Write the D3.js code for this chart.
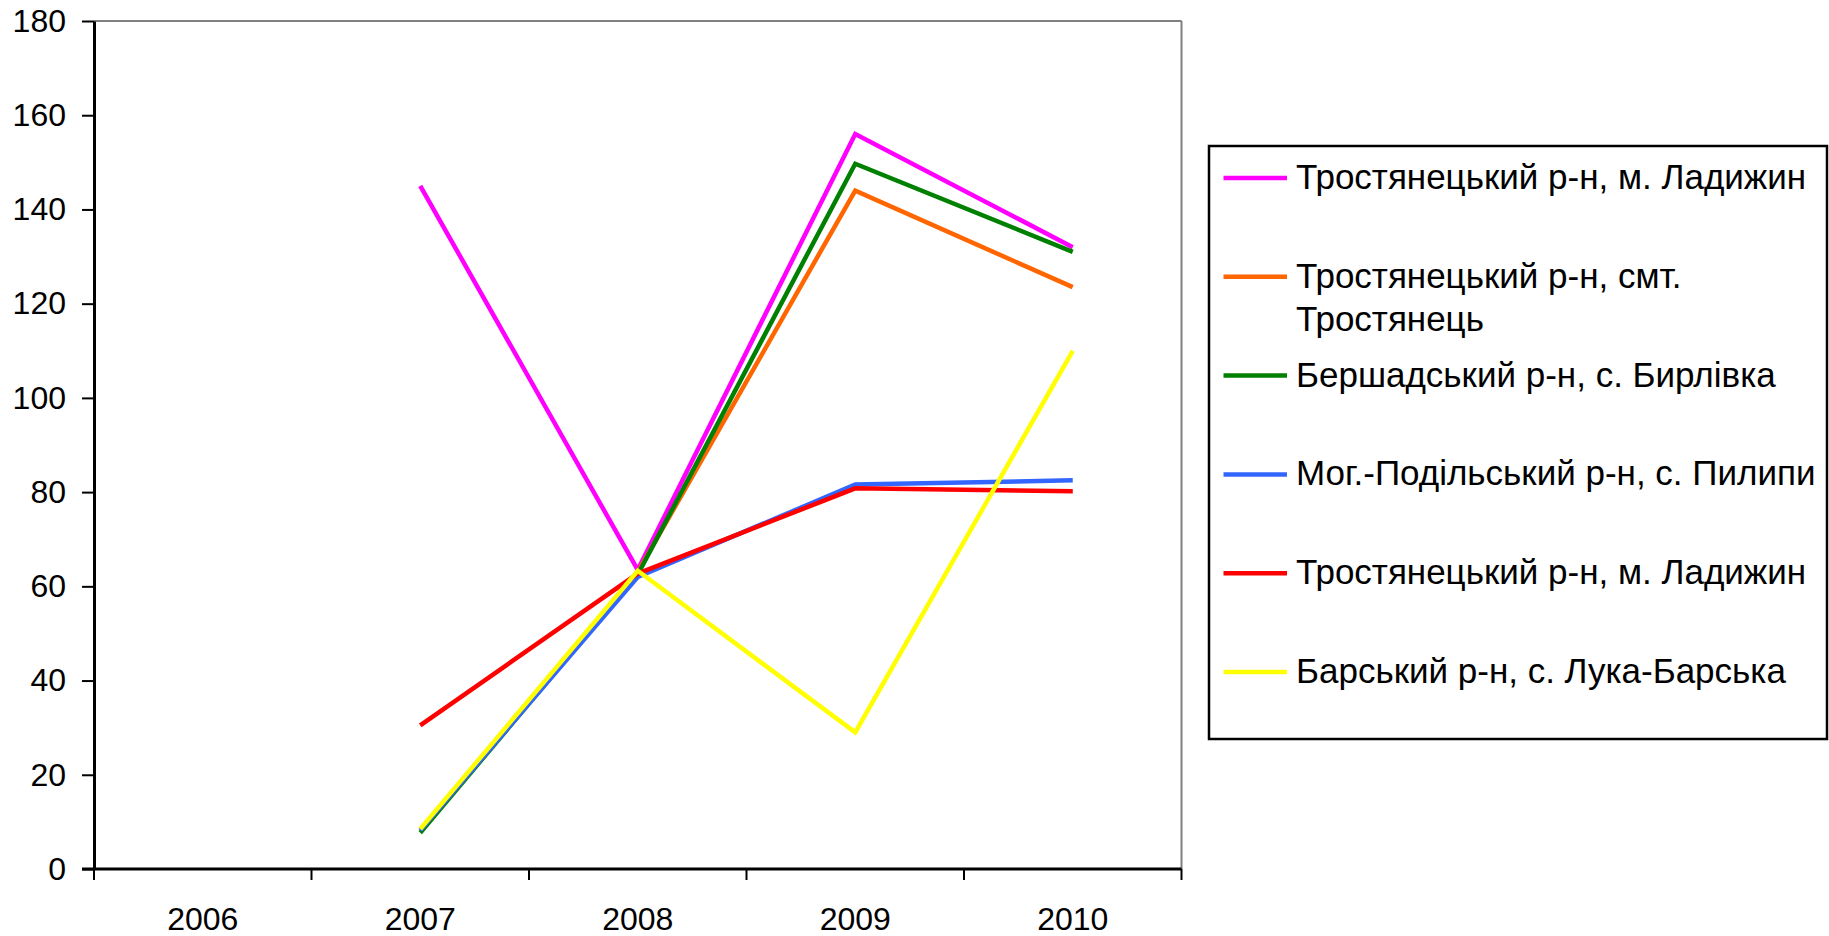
<!DOCTYPE html>
<html>
<head>
<meta charset="utf-8">
<script src="https://cdn.jsdelivr.net/npm/d3@7/dist/d3.min.js"></script>
<style>
  html, body { margin: 0; padding: 0; background: #fff; }
  svg { display: block; }
  text { font-family: "Liberation Sans", Arial, sans-serif; fill: #000; }
</style>
</head>
<body>
<svg id="chart" width="1829" height="936"></svg>
<script>
// Years on the category axis
const years = ["2006", "2007", "2008", "2009", "2010"];

// Y axis ticks
const yTicks = [0, 20, 40, 60, 80, 100, 120, 140, 160, 180];

// Series names (legend order = drawing order)
const seriesNames = [
  "Тростянецький р-н, м. Ладижин",
  "Тростянецький р-н, смт. Тростянець",
  "Бершадський р-н, с. Бирлівка",
  "Мог.-Подільський р-н, с. Пилипи",
  "Тростянецький р-н, м. Ладижин",
  "Барський р-н, с. Лука-Барська"
];

const seriesColors = ["#FF00FF", "#FF6600", "#008000", "#3366FF", "#FF0000", "#FFFF00"];

// Values per year (null = no data)
const ladyzhynA   = [null, 145,  63.5, 156,   132];
const trostianets = [null, null, 63,   144,   123.5];
const byrlivka    = [null, 7.7,  62.5, 149.7, 131];
const pylypy      = [null, 8.2,  62,   81.6,  82.5];
const ladyzhynB   = [null, 30.5, 62.7, 80.8,  80.2];
const lukaBarska  = [null, 8.5,  63.3, 29,    110];

const seriesValues = [ladyzhynA, trostianets, byrlivka, pylypy, ladyzhynB, lukaBarska];

const svg = d3.select("#chart");

const plot = { left: 94, right: 1181.5, top: 21, bottom: 869 };

const x = d3.scaleBand().domain(years).range([plot.left, plot.right]).paddingInner(0).paddingOuter(0);
const y = d3.scaleLinear().domain([0, 180]).range([plot.bottom, plot.top]);

// Plot frame: grey top and right edges
svg.append("line")
  .attr("x1", plot.left).attr("x2", plot.right)
  .attr("y1", plot.top).attr("y2", plot.top)
  .attr("stroke", "#808080").attr("stroke-width", 2);
svg.append("line")
  .attr("x1", plot.right).attr("x2", plot.right)
  .attr("y1", plot.top).attr("y2", plot.bottom)
  .attr("stroke", "#808080").attr("stroke-width", 2);

// Y axis
const yAxis = svg.append("g")
  .attr("transform", `translate(${plot.left},0)`)
  .call(d3.axisLeft(y).tickValues(yTicks).tickSize(12).tickSizeOuter(0).tickPadding(16).tickFormat(d3.format("d")));
yAxis.select(".domain").attr("stroke", "#000").attr("stroke-width", 3);
yAxis.selectAll(".tick line").attr("stroke", "#000").attr("stroke-width", 2);
yAxis.selectAll(".tick text")
  .style("font-family", "'Liberation Sans', Arial, sans-serif")
  .style("font-size", "32px").attr("fill", "#000");

// X axis: tick marks sit on category boundaries
const bounds = years.map(d => x(d)).concat([plot.right]);
const xAxisG = svg.append("g");
xAxisG.append("line")
  .attr("x1", plot.left - 12).attr("x2", plot.right)
  .attr("y1", plot.bottom).attr("y2", plot.bottom)
  .attr("stroke", "#000").attr("stroke-width", 3);
xAxisG.selectAll("line.xt").data(bounds).join("line")
  .attr("class", "xt")
  .attr("x1", d => d).attr("x2", d => d)
  .attr("y1", plot.bottom).attr("y2", plot.bottom + 11)
  .attr("stroke", "#000").attr("stroke-width", 2);
xAxisG.selectAll("text").data(years).join("text")
  .attr("x", d => x(d) + x.bandwidth() / 2)
  .attr("y", 930)
  .attr("text-anchor", "middle")
  .style("font-size", "32px")
  .text(d => d);

// Series lines
const line = d3.line()
  .defined(d => d.v !== null)
  .x(d => x(d.year) + x.bandwidth() / 2)
  .y(d => y(d.v));

seriesValues.forEach((vals, i) => {
  const pts = years.map((yr, j) => ({ year: yr, v: vals[j] }));
  svg.append("path")
    .datum(pts)
    .attr("d", line)
    .attr("fill", "none")
    .attr("stroke", seriesColors[i])
    .attr("stroke-width", 4.5)
    .attr("stroke-linejoin", "miter");
});

// Legend
const legend = { x: 1209, y: 146, w: 618, h: 593 };
svg.append("rect")
  .attr("x", legend.x).attr("y", legend.y)
  .attr("width", legend.w).attr("height", legend.h)
  .attr("fill", "#fff").attr("stroke", "#000").attr("stroke-width", 2.5);

const rowY0 = 178, rowStep = 98.8, lineGap = 43, textX = 1296, wrapW = 540;
seriesNames.forEach((name, i) => {
  const cy = rowY0 + i * rowStep;
  svg.append("line")
    .attr("x1", 1223.5).attr("x2", 1287)
    .attr("y1", cy).attr("y2", cy)
    .attr("stroke", seriesColors[i]).attr("stroke-width", 4.5);
  const t = svg.append("text")
    .attr("x", textX).attr("y", cy + 11)
    .style("font-size", "35px");
  // word wrap to the legend width
  const words = name.split(" ");
  let lineWords = [];
  let tspan = t.append("tspan").attr("x", textX).attr("dy", 0);
  words.forEach(w => {
    lineWords.push(w);
    tspan.text(lineWords.join(" "));
    if (tspan.node().getComputedTextLength() > wrapW && lineWords.length > 1) {
      lineWords.pop();
      tspan.text(lineWords.join(" "));
      lineWords = [w];
      tspan = t.append("tspan").attr("x", textX).attr("dy", lineGap).text(w);
    }
  });
});
</script>
</body>
</html>
